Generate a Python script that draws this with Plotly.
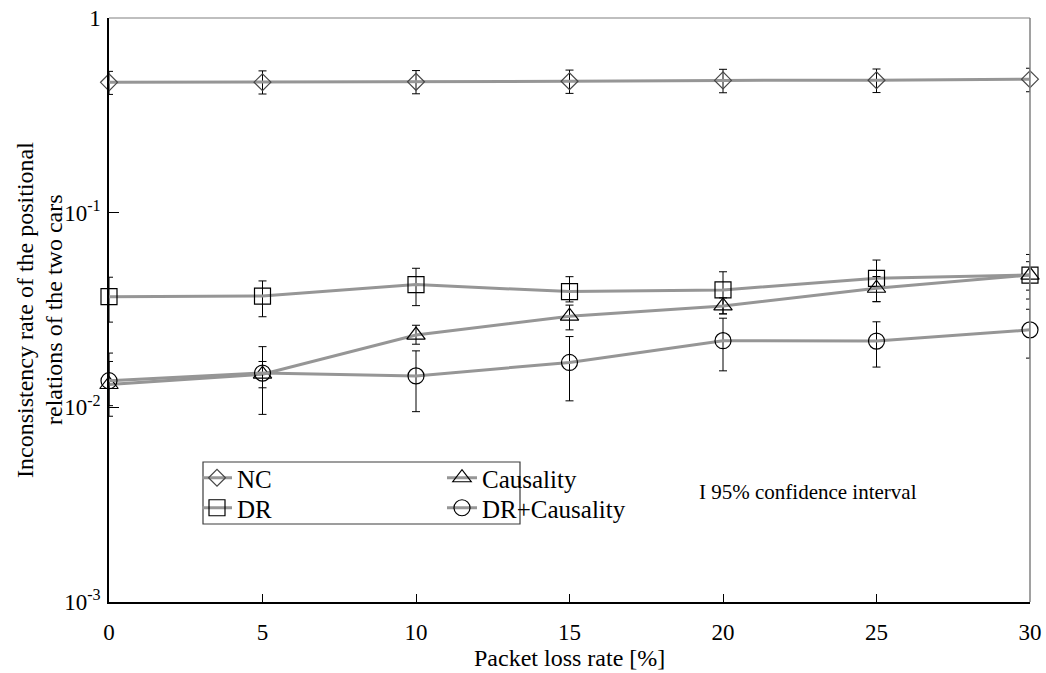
import plotly.graph_objects as go

loss_rate = [0, 5, 10, 15, 20, 25, 30]

nc = [0.467, 0.468, 0.470, 0.473, 0.478, 0.479, 0.485]
nc_hi = [0.532, 0.535, 0.537, 0.540, 0.545, 0.547, 0.552]
nc_lo = [0.405, 0.407, 0.408, 0.410, 0.413, 0.414, 0.418]

dr = [0.0370, 0.0373, 0.0427, 0.0393, 0.0401, 0.0460, 0.0478]
dr_hi = [0.0466, 0.0446, 0.0518, 0.0469, 0.0497, 0.0571, 0.0610]
dr_lo = [0.0274, 0.0292, 0.0333, 0.0348, 0.0302, 0.0349, 0.0400]

caus = [0.0131, 0.0148, 0.0235, 0.0294, 0.0332, 0.0409, 0.0478]
caus_hi = [0.0172, 0.0172, 0.0264, 0.0335, 0.0365, 0.0470, 0.0560]
caus_lo = [0.0090, 0.0126, 0.0211, 0.0250, 0.0302, 0.0349, 0.0360]

drc = [0.0137, 0.0150, 0.0145, 0.0170, 0.0220, 0.0219, 0.0250]
drc_hi = [0.0190, 0.0205, 0.0195, 0.0231, 0.0287, 0.0275, 0.0319]
drc_lo = [0.0102, 0.0092, 0.0095, 0.0108, 0.0154, 0.0161, 0.0179]

y_tickvals = [1, 0.1, 0.01, 0.001]
y_ticktext = ["1", "10<sup>-1</sup>", "10<sup>-2</sup>", "10<sup>-3</sup>"]
x_tickvals = [0, 5, 10, 15, 20, 25, 30]

LINE = "rgb(150,150,150)"
FONT = "Liberation Serif"

# plot area in pixels: x 109..1030, y 18..602
W, H = 1046, 673
L, R, T, B = 109, 16, 18, 71
PW, PH = W - L - R, H - T - B


def px(x):
    return (x - L) / PW


def py(y):
    return (H - B - y) / PH


fig = go.Figure()


def add(name, vals, hi, lo, symbol, size, mcolor, legend):
    fig.add_trace(go.Scatter(
        x=loss_rate, y=vals, name=name, mode="lines+markers",
        line=dict(color=LINE, width=3),
        marker=dict(symbol=symbol, size=size, color=mcolor,
                    line=dict(width=1.2, color=mcolor)),
        error_y=dict(type="data", symmetric=False,
                     array=[h - v for h, v in zip(hi, vals)],
                     arrayminus=[v - l for v, l in zip(vals, lo)],
                     color="black", thickness=1, width=4),
        cliponaxis=False, legend=legend,
    ))


add("NC", nc, nc_hi, nc_lo, "diamond-open", 13, "rgb(70,70,70)", "legend")
add("DR", dr, dr_hi, dr_lo, "square-open", 16, "black", "legend2")
add("Causality", caus, caus_hi, caus_lo, "triangle-up-open", 16, "black", "legend3")
add("DR+Causality", drc, drc_hi, drc_lo, "circle-open", 16, "black", "legend4")

LEG_FONT = 25


def leg(xtext, ycenter):
    return dict(x=px(xtext - 47), y=py(ycenter), xanchor="left", yanchor="middle",
                font=dict(family=FONT, size=LEG_FONT, color="black"),
                bgcolor="rgba(0,0,0,0)", borderwidth=0, itemwidth=30)


fig.update_layout(
    width=W, height=H,
    margin=dict(l=L, r=R, t=T, b=B),
    paper_bgcolor="white", plot_bgcolor="white",
    font=dict(family=FONT, size=20, color="black"),
    showlegend=True,
    legend=leg(244, 478),
    legend2=leg(244, 508),
    legend3=leg(489, 478),
    legend4=leg(489, 508),
    xaxis=dict(range=[0, 30], tickvals=x_tickvals, ticks="inside", ticklen=8,
               tickcolor="black", showline=True, linecolor="black", linewidth=1.5,
               showgrid=False, zeroline=False, ticklabelstandoff=9,
               automargin=False, tickfont=dict(family=FONT, size=23)),
    yaxis=dict(type="log", range=[-3, 0], tickvals=y_tickvals, ticktext=y_ticktext,
               ticks="inside", ticklen=10, tickcolor="black", showline=True,
               linecolor="black", linewidth=1.5, showgrid=False, zeroline=False,
               automargin=False, ticklabelstandoff=2,
               tickfont=dict(family=FONT, size=23)),
    shapes=[
        dict(type="line", xref="paper", yref="paper", x0=0, x1=1, y0=1, y1=1,
             line=dict(color="rgb(170,170,170)", width=1.5)),
        dict(type="line", xref="paper", yref="paper", x0=1, x1=1, y0=0, y1=1,
             line=dict(color="rgb(130,130,130)", width=1.5)),
        dict(type="rect", xref="paper", yref="paper", x0=px(203), x1=px(520),
             y0=py(524), y1=py(462), line=dict(color="rgb(60,60,60)", width=1.2),
             fillcolor="rgba(0,0,0,0)"),
    ],
    annotations=[
        dict(text="I 95% confidence interval", xref="paper", yref="paper",
             x=px(697), y=py(492), xanchor="left", yanchor="middle",
             showarrow=False, font=dict(family=FONT, size=21, color="black")),
        dict(text="Packet loss rate [%]", xref="paper", yref="paper",
             x=px(569), y=py(673), xanchor="center", yanchor="bottom",
             showarrow=False, font=dict(family=FONT, size=24, color="black")),
        dict(text="Inconsistency rate of the positional", xref="paper", yref="paper",
             x=px(25), y=py(310), xanchor="center", yanchor="middle", textangle=-90,
             showarrow=False, font=dict(family=FONT, size=24, color="black")),
        dict(text="relations of the two cars", xref="paper", yref="paper",
             x=px(54), y=py(310), xanchor="center", yanchor="middle", textangle=-90,
             showarrow=False, font=dict(family=FONT, size=24, color="black")),
    ],
)

fig.write_html("out.html", config={"displayModeBar": False},
               post_script="document.body.style.margin='0px';")
